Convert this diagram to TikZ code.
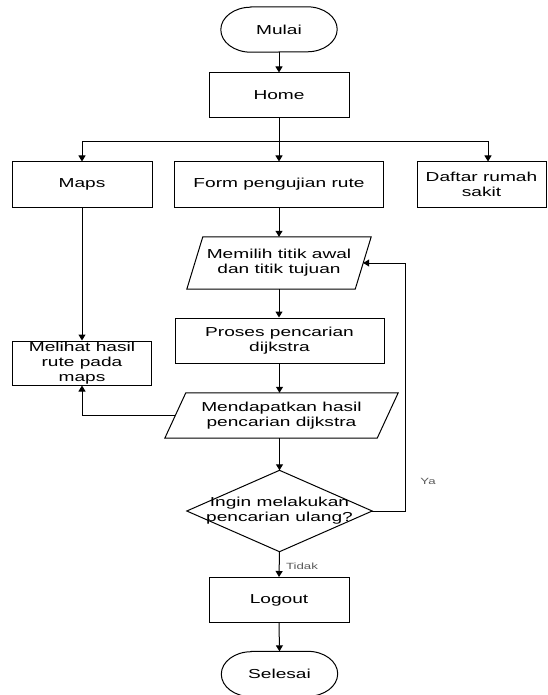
\documentclass[tikz,border=0pt]{standalone}
\usepackage{fontspec}
\setmainfont[FakeStretch=1.47]{Liberation Sans}
\usetikzlibrary{arrows.meta}
\definecolor{lblgray}{HTML}{5A5A5A}
\begin{document}
\begin{tikzpicture}[x=1pt,y=-1pt,
  every node/.style={font=\fontsize{13}{15}\selectfont, align=center, inner sep=0pt},
  box/.style={draw, line width=1pt, minimum width=#1, minimum height=45pt},
  plain/.style={minimum width=#1},
  outline/.style={draw, line width=1pt, line join=miter},
  link/.style={draw, line width=1pt},
  arr/.style={link, -{Triangle[length=6pt,width=7pt]}},
  lbl/.style={font=\fontsize{9}{11}\selectfont, text=lblgray}
]
\useasboundingbox (0,0) rectangle (547,695);

% terminators
\node[plain=116pt, minimum height=45pt] (mulai) at (279,29.5) {Mulai};
\draw[outline] ([xshift=30pt]mulai.north west) -- ([xshift=-30pt]mulai.north east)
  arc[start angle=90, end angle=-90, x radius=30pt, y radius=22.5pt]
  -- ([xshift=30pt]mulai.south west)
  arc[start angle=270, end angle=90, x radius=30pt, y radius=22.5pt] -- cycle;

\node[plain=116pt, minimum height=45pt] (selesai) at (279.5,674) {Selesai};
\draw[outline] ([xshift=30pt]selesai.north west) -- ([xshift=-30pt]selesai.north east)
  arc[start angle=90, end angle=-90, x radius=30pt, y radius=22.5pt]
  -- ([xshift=30pt]selesai.south west)
  arc[start angle=270, end angle=90, x radius=30pt, y radius=22.5pt] -- cycle;

% process boxes
\node[box=140pt] (home) at (279,95.5) {Home};
\node[box=140pt] (maps) at (82,184.5) {Maps};
\node[box=209pt] (form) at (279,184.5) {Form pengujian rute};
\node[box=129pt] (daftar) at (481.5,184.5) {Daftar rumah\\sakit};
\node[box=209pt] (proses) at (279.5,340.5) {Proses pencarian\\dijkstra};
\node[box=139pt, minimum height=44pt] (melihat) at (82,363) {Melihat hasil\\rute pada\\maps};
\node[box=140pt] (logout) at (279,600) {Logout};

% parallelograms
\node[plain=168pt, minimum height=52pt] (memilih) at (279,263) {Memilih titik awal\\dan titik tujuan};
\draw[outline] ([xshift=8pt]memilih.north west) -- ([xshift=8pt]memilih.north east)
  -- ([xshift=-8pt]memilih.south east) -- ([xshift=-8pt]memilih.south west) -- cycle;

\node[plain=212pt, minimum height=45pt] (mend) at (281.5,415.5) {Mendapatkan hasil\\pencarian dijkstra};
\draw[outline] ([xshift=10.5pt]mend.north west) -- ([xshift=10.5pt]mend.north east)
  -- ([xshift=-10.5pt]mend.south east) -- ([xshift=-10.5pt]mend.south west) -- cycle;

% decision
\node[plain=185pt, minimum height=81pt] (dec) at (279.5,511) {Ingin melakukan\\pencarian ulang?};
\draw[outline] (dec.north) -- (dec.east) -- (dec.south) -- (dec.west) -- cycle;

% connectors
\coordinate (bus) at (279,142);
\draw[arr] (mulai.south) -- (home.north);
\draw[link] (home.south) -- (bus);
\draw[arr] (bus) -- (form.north);
\draw[arr] (bus) -| (maps.north);
\draw[arr] (bus) -| ([xshift=6.5pt]daftar.north);
\draw[arr] (form.south) -- (memilih.north);
\draw[arr] (memilih.south) -- (proses.north -| memilih.south);
\draw[arr] (proses.south) -- (proses.south |- mend.north);
\draw[arr] (dec.north |- mend.south) -- (dec.north);
\draw[arr] (dec.east) -- ++(33,0) |- (memilih.east);
\draw[arr] (dec.south) -- (logout.north);
\draw[arr] (logout.south) -- (selesai.north);
\draw[arr] (maps.south) -- (melihat.north);
\draw[arr] (mend.west) -| (melihat.south);

% labels
\node[lbl] (ya) at (428,481) {Ya};
\node[lbl] (tidak) at (302,566) {Tidak};
\end{tikzpicture}
\end{document}
